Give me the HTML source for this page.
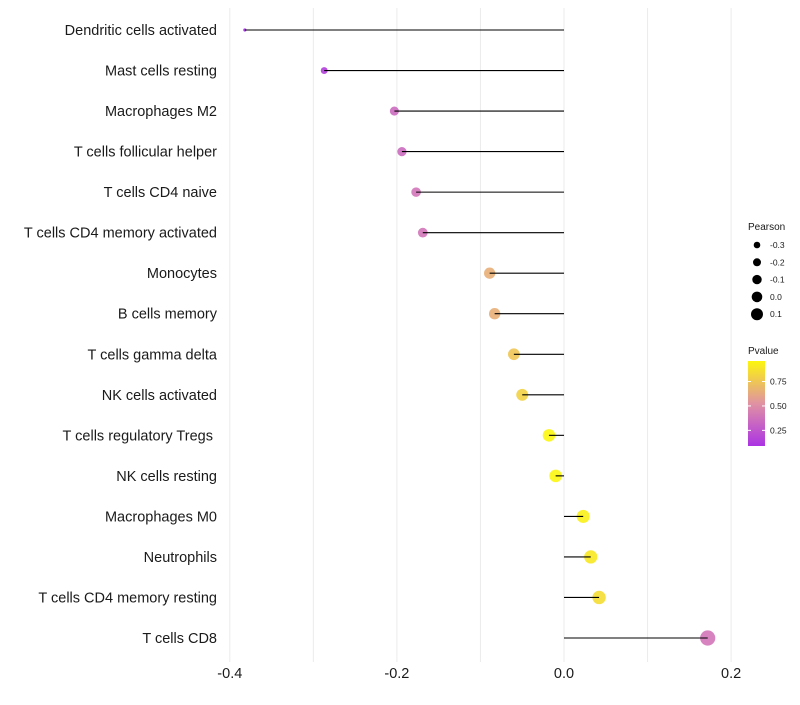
<!DOCTYPE html>
<html><head><meta charset="utf-8"><style>
body{margin:0;background:#fff;font-family:"Liberation Sans",sans-serif}
</style></head><body>
<svg id="chart" width="800" height="700"></svg>
<script>
const categories=["Dendritic cells activated","Mast cells resting","Macrophages M2","T cells follicular helper","T cells CD4 naive","T cells CD4 memory activated","Monocytes","B cells memory","T cells gamma delta","NK cells activated","T cells regulatory  Tregs\u00a0","NK cells resting","Macrophages M0","Neutrophils","T cells CD4 memory resting","T cells CD8"];
const pearson=[-0.382,-0.287,-0.203,-0.194,-0.177,-0.169,-0.089,-0.083,-0.060,-0.050,-0.018,-0.010,0.023,0.032,0.042,0.172];
const pvalue=[0.05,0.14,0.35,0.35,0.40,0.40,0.65,0.65,0.75,0.80,0.96,0.96,0.93,0.90,0.85,0.40];
const xTicks=[-0.4,-0.2,0,0.2];
const xTickLabels=["-0.4","-0.2","0.0","0.2"];
const gridVals=[-0.4,-0.3,-0.2,-0.1,0,0.1,0.2];
const sizeLegend=[-0.3,-0.2,-0.1,0.0,0.1];
const sizeLegendLabels=["-0.3","-0.2","-0.1","0.0","0.1"];
const pTicks=[0.25,0.5,0.75];
const pTickLabels=["0.25","0.50","0.75"];

const NS="http://www.w3.org/2000/svg";
const svg=document.getElementById('chart');
function mk(t,a,p){const e=document.createElementNS(NS,t);for(const k in a)e.setAttribute(k,a[k]);(p||svg).appendChild(e);return e;}
const x=v=>564+v*835.5;
const y=i=>30+i*(608/15);
const r=v=>Math.sqrt(2.5+100*Math.max(0,v+0.382));
function lerp(a,b,t){return a.map((c,i)=>Math.round(c+(b[i]-c)*t));}
function col(p){const lo=[160,32,240],mid=[222,140,170],hi=[255,255,0];
 const c=p<0.5?lerp(lo,mid,p/0.5):lerp(mid,hi,(p-0.5)/0.5);return `rgb(${c})`;}

gridVals.forEach(v=>{const g=mk('line',{x1:x(v),x2:x(v),y1:8,y2:662,stroke:'#ebebeb','stroke-width':1});
});

categories.forEach((c,i)=>{
 const t=mk('text',{x:217,y:y(i)+5,'text-anchor':'end','font-size':14.5,fill:'#1a1a1a'});t.textContent=c;
 
 const pt=mk('circle',{cx:x(pearson[i]),cy:y(i),r:r(pearson[i]),fill:col(pvalue[i]),opacity:0.9});
 
 const l=mk('line',{x1:x(0),x2:x(pearson[i]),y1:y(i),y2:y(i),stroke:'#000','stroke-width':1.1});
 
});
xTicks.forEach((v,i)=>{const t=mk('text',{x:x(v),y:678,'text-anchor':'middle','font-size':14.5,fill:'#1a1a1a'});t.textContent=xTickLabels[i];
});

// legends
const lt=mk('text',{x:748,y:230,'font-size':10,fill:'#1a1a1a'});lt.textContent='Pearson';

const lr=[3.3,4.0,4.7,5.3,6.0];
sizeLegend.forEach((v,i)=>{const cy=245+i*17.3;
 const c=mk('circle',{cx:757,cy:cy,r:lr[i],fill:'#000'});
 
 const t=mk('text',{x:770,y:cy+3,'font-size':8.5,fill:'#1a1a1a'});t.textContent=sizeLegendLabels[i];
 });
const pt2=mk('text',{x:748,y:354,'font-size':10,fill:'#1a1a1a'});pt2.textContent='Pvalue';

const defs=mk('defs',{});const lg=mk('linearGradient',{id:'pg',x1:0,y1:1,x2:0,y2:0},defs);
[0,0.25,0.5,0.75,1].forEach(o=>mk('stop',{offset:o,'stop-color':col(0.09+o*0.87)},lg));
const bar=mk('rect',{x:748,y:361,width:17,height:85,fill:'url(#pg)'});

const py=p=>446-(p-0.09)/0.87*85;
pTicks.forEach((p,i)=>{mk('line',{x1:748,x2:751,y1:py(p),y2:py(p),stroke:'#fff'});mk('line',{x1:762,x2:765,y1:py(p),y2:py(p),stroke:'#fff'});
 const t=mk('text',{x:770,y:py(p)+3,'font-size':8.5,fill:'#1a1a1a'});t.textContent=pTickLabels[i];
 });
</script>
</body></html>
